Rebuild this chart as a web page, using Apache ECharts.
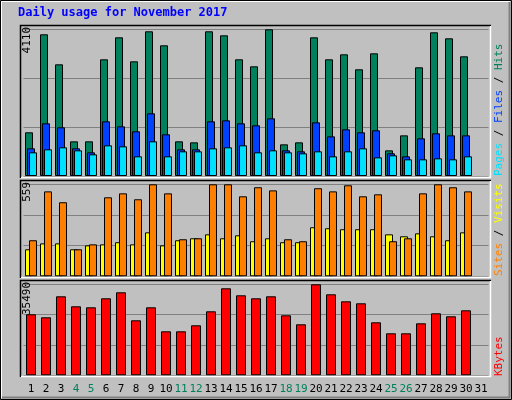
<!DOCTYPE html>
<html><head><meta charset="utf-8">
<script src="https://cdn.jsdelivr.net/npm/echarts@6/dist/echarts.min.js"></script>
<style>html,body{margin:0;padding:0;background:#c0c0c0}#c{width:512px;height:400px}</style>
</head><body><div id="c"></div>
<script>
const days = ['1','2','3','4','5','6','7','8','9','10','11','12','13','14','15','16','17','18','19','20','21','22','23','24','25','26','27','28','29','30','31'];
const weekendDays = ['4','5','11','12','18','19','25','26'];
const hits = [1224,3970,3129,971,971,3269,3885,3213,4054,3661,971,943,4054,3941,3269,3073,4110,887,943,3885,3269,3409,2989,3437,719,1139,3045,4026,3857,3353,null];
const files = [775,1476,1364,775,663,1532,1392,1252,1756,1168,747,747,1532,1560,1476,1420,1616,719,691,1504,1111,1308,1224,1280,635,551,1055,1196,1139,1139,null];
const pages = [663,747,803,719,607,859,831,551,971,551,691,691,775,803,859,663,719,663,635,691,551,691,775,523,579,467,467,495,467,551,null];
const sites = [164,200,200,164,188,194,207,194,267,188,219,231,255,231,249,213,231,207,207,298,292,286,286,286,255,243,261,243,219,267,null];
const visits = [219,516,450,164,194,480,504,468,559,504,225,231,559,559,486,541,522,225,213,535,516,553,486,498,213,231,504,559,541,516,null];
const kbytes = [23790,22620,30810,26910,26520,30030,32370,21450,26520,17160,17160,19500,24960,33930,31200,30030,30810,23400,19890,35490,31590,28860,28080,20670,16380,16380,20280,24180,23010,25350,null];
const maxLabels = ['4110','559','35490'];
const title = 'Daily usage for November 2017';
const legend1 = ['Pages',' / ','Files',' / ','Hits'];
const legend2 = ['Sites',' / ','Visits'];
const legend3 = ['KBytes'];

const F = 'DejaVu Sans Mono';
const maxes = [4110,559,35490];
const grids = [
  {left:23.5,width:465,top:29.3,height:146.7},
  {left:23.5,width:465,top:184.3,height:92},
  {left:23.5,width:465,top:284.3,height:91}
];
const xAxes = grids.map((g,i)=>({type:'category',gridIndex:i,data:days,
  axisLine:{show:false},axisTick:{show:false},
  axisLabel:{show:i===2,interval:0,margin:8,fontFamily:F,fontSize:11,
    color:(v)=>weekendDays.includes(v)?'#00805c':'#000'}}));
const yAxes = grids.map((g,i)=>({type:'value',gridIndex:i,min:0,max:maxes[i],interval:maxes[i]/3,
  axisLabel:{show:false},axisLine:{show:false},axisTick:{show:false},
  splitLine:{lineStyle:{color:'#808080',width:1}}}));
const bs = {borderColor:'#000',borderWidth:1};
const series = [
  {type:'bar',xAxisIndex:0,yAxisIndex:0,data:hits,barWidth:8,barGap:'-75%',itemStyle:{color:'#00805c',...bs}},
  {type:'bar',xAxisIndex:0,yAxisIndex:0,data:files,barWidth:8,barGap:'-75%',itemStyle:{color:'#0040ff',...bs}},
  {type:'bar',xAxisIndex:0,yAxisIndex:0,data:pages,barWidth:8,barGap:'-75%',itemStyle:{color:'#00e0ff',...bs}},
  {type:'bar',xAxisIndex:1,yAxisIndex:1,data:sites,barWidth:8,barGap:'-50%',itemStyle:{color:'#ffff00',...bs}},
  {type:'bar',xAxisIndex:1,yAxisIndex:1,data:visits,barWidth:8,barGap:'-50%',itemStyle:{color:'#ff8000',...bs}},
  {type:'bar',xAxisIndex:2,yAxisIndex:2,data:kbytes,barWidth:10,itemStyle:{color:'#ff0000',...bs}}
].map(s=>({...s,animation:false,silent:true}));

const panels = [[20,25,471,153],[20,180,471,98],[20,280,471,97]];
const graphic = [];
graphic.push({type:'rect',shape:{x:0.5,y:0.5,width:511,height:399},style:{fill:null,stroke:'#000'},z:100});
graphic.push({type:'polyline',shape:{points:[[1.5,398],[1.5,1.5],[510,1.5]]},style:{stroke:'#fff',fill:null},z:100});
graphic.push({type:'polyline',shape:{points:[[2,397.5],[509.5,397.5],[509.5,2]]},style:{stroke:'#808080',fill:null,lineWidth:2},z:100});
panels.forEach(p=>{
  const [x,y,w,h]=p;
  graphic.push({type:'polyline',shape:{points:[[x+0.5,y+h],[x+0.5,y+0.5],[x+w,y+0.5]]},style:{stroke:'#000',fill:null,lineWidth:1.5},z:100});
  graphic.push({type:'polyline',shape:{points:[[x+1,y+h-0.5],[x+w-0.5,y+h-0.5],[x+w-0.5,y+1]]},style:{stroke:'#fff',fill:null,lineWidth:1.5},z:100});
});
graphic.push({type:'text',left:18,top:7,style:{text:title,fill:'#0000ff',font:'bold 12px "DejaVu Sans Mono"'},z:100});
const labTop=[27,182,282];
maxLabels.forEach((t,i)=>{
  graphic.push({type:'text',x:22,y:labTop[i],rotation:Math.PI/2,
    style:{text:t,fill:'#000',font:'11px "DejaVu Sans Mono"',align:'right',verticalAlign:'top'},z:100});
});
function legend(parts,colors,bottomY){
  graphic.push({type:'text',x:494,y:bottomY,rotation:Math.PI/2,
    style:{rich:Object.fromEntries(colors.map((c,i)=>['c'+i,{fill:c,font:'11px "DejaVu Sans Mono"'}])),
      text:parts.map((p,i)=>'{c'+i+'|'+p+'}').join(''),align:'left',verticalAlign:'top'},z:100});
}
legend(legend1,['#00e0ff','#000','#0040ff','#000','#00805c'],176);
legend(legend2,['#ff8000','#000','#ffff00'],276);
legend(legend3,['#ff0000'],376);

const chart = echarts.init(document.getElementById('c'));
chart.setOption({backgroundColor:'#c0c0c0',animation:false,grid:grids,xAxis:xAxes,yAxis:yAxes,series,graphic});
</script></body></html>
